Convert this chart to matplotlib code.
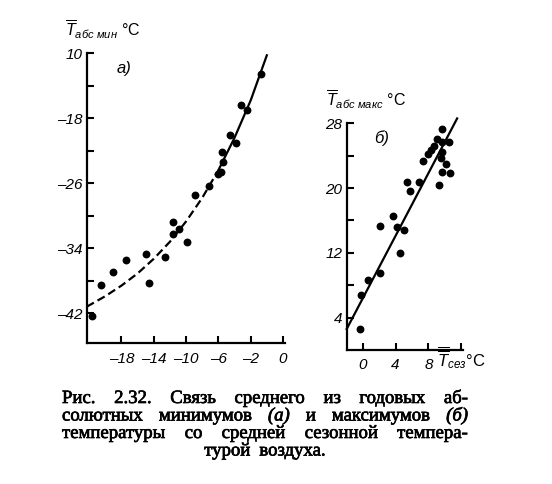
import matplotlib
matplotlib.use('Agg')
import matplotlib.pyplot as plt
import matplotlib.patheffects as pe

# ---------------- data ----------------
# panel a) : mean annual absolute minimum vs mean seasonal temperature
a_x = [-21.7, -20.5, -19.0, -17.4, -15.0, -14.6, -12.6, -11.6, -11.6, -10.9, -9.9,
       -8.9, -7.1, -6.1, -5.7, -5.4, -5.6, -4.5, -3.8, -3.2, -2.4, -0.7]
a_y = [-42.4, -38.5, -36.9, -35.5, -34.7, -38.3, -35.1, -30.8, -32.3, -31.6, -33.2,
       -27.4, -26.3, -24.8, -24.6, -23.4, -22.1, -20.1, -21.1, -16.4, -17.0, -12.6]
a_curve_x = [-22.3, -20, -18, -16, -14, -12, -10, -8, -6, -4, -2, 0]
a_curve_y = [-41.2, -39.9, -38.6, -37.1, -35.3, -33.2, -30.7, -27.8, -24.4, -20.4, -15.8, -10.25]

# panel б) : mean annual absolute maximum vs mean seasonal temperature
b_x = [-0.3, -0.2, 0.6, 2.1, 2.1, 3.7, 4.2, 5.0, 4.6, 5.4, 5.8, 6.9, 7.3, 7.9, 8.3,
       8.7, 9.1, 9.7, 9.7, 10.5, 9.7, 9.5, 10.2, 9.7, 10.6, 9.3]
b_y = [2.6, 6.8, 8.6, 9.5, 15.3, 16.5, 15.2, 14.8, 12.0, 20.7, 19.7, 20.8, 23.3, 24.2, 24.7,
       25.2, 26.1, 27.3, 25.7, 25.7, 24.5, 23.7, 23.0, 22.0, 21.9, 20.4]
b_line_x = [-1.95, 11.5]
b_line_y = [2.6, 28.6]

a_xticks = [-18, -14, -10, -6, -2, 2]
a_xticklabels = ['–18', '–14', '–10', '–6', '–2', '0']
a_yticks = [-10, -14, -18, -22, -26, -30, -34, -38, -42]
a_yticklabels = ['10', '', '–18', '', '–26', '', '–34', '', '–42']
b_xticks = [0, 4, 8, 12]
b_xticklabels = ['0', '4', '8', '']
b_yticks = [4, 8, 12, 16, 20, 24, 28]
b_yticklabels = ['4', '', '12', '', '20', '', '28']

a_ylabel = r'$\overline{T}_{абс\ мин}$ °C'
b_ylabel = r'$\overline{T}_{абс\ макс}$ °C'
b_xlabel = r'$\overline{\overline{T}}_{сез}$°C'
a_panel = 'а)'
b_panel = 'б)'

caption_lines = [
    ['Рис.', '2.32.', 'Связь', 'среднего', 'из', 'годовых', 'аб-'],
    ['солютных', 'минимумов', '(а)', 'и', 'максимумов', '(б)'],
    ['температуры', 'со', 'средней', 'сезонной', 'темпера-'],
    ['турой', 'воздуха.'],
]
caption_italic = {'(а)', '(б)'}

# ---------------- style ----------------
plt.rcParams['font.family'] = ['Liberation Sans', 'DejaVu Sans']
plt.rcParams['mathtext.fontset'] = 'custom'
plt.rcParams['mathtext.rm'] = 'Liberation Sans'
plt.rcParams['mathtext.it'] = 'Liberation Sans:italic'
plt.rcParams['mathtext.bf'] = 'Liberation Sans:bold'

W, H = 552, 484
fig = plt.figure(figsize=(W / 100, H / 100), dpi=100)
fig.patch.set_facecolor('white')


def px_axes(l, t, r, b):
    return fig.add_axes([l / W, 1 - b / H, (r - l) / W, (b - t) / H])


ax1 = px_axes(86.7, 53.3, 285, 343.3)
ax2 = px_axes(346.7, 123.3, 463.3, 350)

for ax in (ax1, ax2):
    ax.set_facecolor('none')
    for s in ('top', 'right'):
        ax.spines[s].set_visible(False)
    for s in ('left', 'bottom'):
        ax.spines[s].set_linewidth(1.6)
        ax.spines[s].set_color('black')
    ax.tick_params(direction='in', length=5, width=1.5, labelsize=11, colors='black')
    ax.tick_params(axis='x', pad=6)
    ax.tick_params(axis='y', pad=3)

# panel a
ax1.set_xlim(-22.3, 2.25)
ax1.set_ylim(-45.7, -10)
ax1.scatter(a_x, a_y, s=32, color='black', zorder=3, clip_on=False, linewidths=0)
n_split = a_curve_x.index(-6)
ax1.plot(a_curve_x[:n_split + 1], a_curve_y[:n_split + 1], color='black', lw=1.6,
         linestyle=(0, (3.7, 1.9)), clip_on=False, dash_capstyle='butt')
ax1.plot(a_curve_x[n_split:], a_curve_y[n_split:], color='black', lw=1.6, clip_on=False)
ax1.set_xticks(a_xticks)
ax1.set_xticklabels(a_xticklabels, style='italic')
ax1.set_yticks(a_yticks)
ax1.set_yticklabels(a_yticklabels, style='italic')

# panel b
ax2.set_xlim(-1.95, 12.25)
ax2.set_ylim(0, 28)
ax2.scatter(b_x, b_y, s=32, color='black', zorder=3, clip_on=False, linewidths=0)
ax2.plot(b_line_x, b_line_y, color='black', lw=1.6, clip_on=False)
ax2.set_xticks(b_xticks)
ax2.set_xticklabels(b_xticklabels, style='italic')
ax2.set_yticks(b_yticks)
ax2.set_yticklabels(b_yticklabels, style='italic')

# axis titles and panel labels
fig.text(65 / W, 1 - 36 / H, a_ylabel, fontsize=11.5, ha='left', va='baseline')
fig.text(326 / W, 1 - 106 / H, b_ylabel, fontsize=11.5, ha='left', va='baseline')
fig.text(437 / W, 1 - 366 / H, b_xlabel, fontsize=12, ha='left', va='baseline')
fig.text(124 / W, 1 - 68 / H, a_panel, fontsize=12, style='italic', ha='center', va='center')
fig.text(382 / W, 1 - 138 / H, b_panel, fontsize=12, style='italic', ha='center', va='center')

# caption (justified like the printed page)
renderer = fig.canvas.get_renderer()
cap_left, cap_right = 62, 468
baselines = [403, 420.5, 438, 455.5]
cap_size = 13.5
thick = [pe.withStroke(linewidth=0.5, foreground='black')]
for i, (words, yb) in enumerate(zip(caption_lines, baselines)):
    texts = [fig.text(0, 1 - yb / H, w, fontsize=cap_size, family='Liberation Serif',
                      weight='normal', style='italic' if w in caption_italic else 'normal',
                      ha='left', va='baseline', path_effects=thick) for w in words]
    widths = [t.get_window_extent(renderer).width for t in texts]
    last = (i == len(caption_lines) - 1)
    if not last:
        gap = (cap_right - cap_left - sum(widths)) / (len(words) - 1)
        x = cap_left
    else:
        gap = 9
        total = sum(widths) + gap * (len(words) - 1)
        x = (cap_left + cap_right) / 2 - total / 2
    for t, w in zip(texts, widths):
        t.set_x(x / W)
        x += w + gap

fig.savefig('out.png', dpi=100, facecolor='white')
